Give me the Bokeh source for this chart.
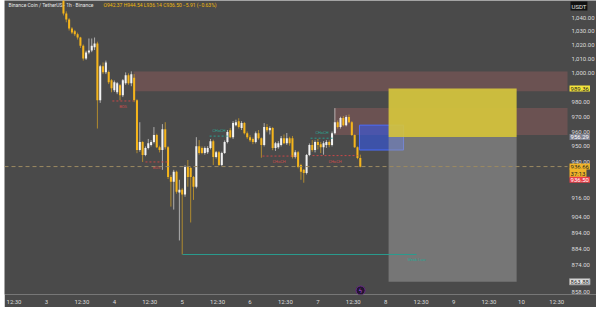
import pandas as pd
from bokeh.plotting import figure
from bokeh.models import (Range1d, FixedTicker, NumeralTickFormatter, Label, ColumnDataSource,
                          LogAxis)
from bokeh.core.properties import value
from bokeh.embed import file_html
from bokeh.resources import INLINE

# ---------------- data (BNB/USDT, 1h candles) ----------------
BASE = pd.Timestamp("2025-11-03 00:00")
EPOCH = pd.Timestamp("1970-01-01")


def ms(h):
    return float((BASE + pd.Timedelta(hours=h) - EPOCH) / pd.Timedelta(milliseconds=1))


hours = list(range(6, 112))
opens = [1058.0, 1042.9, 1038.5, 1032.0, 1030.0, 1027.8, 1025.5, 1019.5, 1010.5, 1014.8,
         1016.2, 1018.5, 1021.2, 981.3, 1005.0, 1000.7, 1001.0, 995.1, 988.2, 986.8,
         991.7, 984.8, 993.0, 998.6, 993.0, 997.0, 981.3, 947.6, 952.9, 944.3,
         948.9, 950.9, 952.9, 957.6, 949.5, 947.6, 961.6, 949.5, 929.9, 926.7,
         933.2, 919.7, 921.6, 918.4, 936.4, 935.7, 929.9, 923.5, 950.2, 948.9,
         945.6, 946.2, 948.9, 953.5, 943.0, 946.2, 937.7, 945.6, 952.9, 960.9,
         956.2, 964.3, 967.0, 962.3, 965.7, 958.9, 956.2, 954.9, 952.9, 958.9,
         955.5, 950.9, 963.0, 960.9, 962.3, 948.9, 949.5, 950.9, 955.5, 952.2,
         955.5, 955.5, 943.0, 946.2, 937.7, 934.5, 932.5, 944.3, 950.9, 947.6,
         952.9, 951.5, 949.5, 950.9, 952.9, 950.9, 958.9, 966.3, 963.0, 969.1,
         964.3, 969.8, 966.3, 957.6, 949.5, 942.37]
highs = [1060.0, 1044.5, 1039.5, 1033.0, 1031.0, 1029.0, 1026.0, 1020.5, 1016.0, 1024.8,
         1024.8, 1025.5, 1022.5, 1006.0, 1007.7, 1009.0, 1002.0, 996.0, 995.0, 994.0,
         992.5, 996.0, 1000.7, 1000.0, 1001.4, 999.5, 982.0, 966.3, 953.5, 950.0,
         955.0, 954.2, 963.0, 958.5, 950.5, 965.0, 966.3, 950.2, 931.0, 934.5,
         934.0, 928.0, 922.5, 937.5, 941.0, 936.5, 930.5, 956.2, 954.2, 950.0,
         950.0, 950.2, 955.0, 954.5, 947.0, 947.0, 946.5, 954.0, 961.0, 962.3,
         967.0, 968.0, 969.0, 967.0, 966.5, 960.0, 957.5, 956.0, 960.0, 961.0,
         956.0, 965.7, 965.0, 963.5, 963.0, 953.0, 953.5, 957.0, 958.0, 959.0,
         956.5, 957.0, 947.5, 947.0, 938.5, 935.0, 945.0, 952.0, 954.2, 954.0,
         955.0, 953.0, 953.5, 954.2, 954.0, 960.0, 975.9, 967.5, 970.0, 970.5,
         971.0, 971.5, 967.0, 958.0, 950.0, 944.54]
lows = [1041.5, 1036.5, 1030.5, 1028.0, 1026.5, 1024.0, 1018.0, 1009.0, 1009.5, 1013.5,
        1015.0, 1016.5, 962.0, 979.5, 999.5, 999.5, 992.5, 986.8, 987.0, 985.5,
        981.3, 983.5, 992.0, 992.0, 991.0, 980.0, 945.5, 946.5, 939.7, 943.5,
        948.0, 950.0, 952.0, 948.9, 946.0, 934.5, 948.0, 928.5, 910.7, 908.8,
        919.0, 889.3, 880.6, 917.0, 923.5, 900.6, 915.0, 922.5, 944.5, 944.8,
        944.5, 945.0, 948.0, 937.7, 942.0, 937.0, 937.0, 945.0, 952.0, 955.5,
        955.0, 963.5, 962.0, 961.0, 958.0, 955.0, 953.0, 951.5, 952.0, 954.5,
        942.5, 950.0, 959.5, 958.0, 947.5, 947.0, 948.5, 950.0, 951.5, 951.0,
        950.5, 942.0, 942.0, 935.5, 928.0, 926.1, 931.5, 943.5, 946.5, 946.0,
        948.0, 945.6, 944.5, 949.0, 949.5, 950.0, 958.0, 962.0, 962.0, 963.5,
        963.5, 965.5, 957.0, 949.0, 941.5, 936.14]
closes = [1042.9, 1038.5, 1032.0, 1029.1, 1027.8, 1025.5, 1019.5, 1010.5, 1014.8, 1016.2,
          1019.5, 1021.2, 981.3, 1005.0, 1000.7, 1007.7, 993.7, 989.6, 993.7, 993.0,
          984.8, 995.1, 998.6, 993.0, 999.3, 981.3, 947.6, 952.9, 944.3, 948.9,
          952.2, 952.9, 957.6, 949.5, 947.6, 961.6, 949.5, 929.9, 926.7, 933.2,
          920.3, 921.6, 918.4, 936.4, 929.9, 929.9, 923.5, 950.2, 945.6, 945.6,
          948.9, 948.9, 953.5, 943.0, 946.2, 937.7, 945.6, 952.9, 959.6, 956.2,
          965.7, 966.3, 963.0, 965.7, 958.9, 956.2, 954.2, 952.9, 958.9, 955.5,
          950.9, 963.0, 960.9, 962.3, 948.9, 952.2, 952.2, 955.5, 952.2, 955.5,
          952.2, 943.0, 946.2, 936.4, 933.2, 932.5, 944.3, 950.9, 947.6, 952.9,
          950.9, 949.5, 952.2, 952.9, 950.9, 958.9, 966.3, 963.0, 969.1, 964.3,
          969.8, 966.3, 957.6, 949.5, 942.3, 936.50]

y_ticks = [858, 874, 884, 894, 904, 916, 940, 950, 960, 970, 980,
           1000, 1010, 1020, 1030, 1040]
x_tick_hours = [-11.5, 0, 12.5, 24, 36.5, 48, 60.5, 72, 84.5, 96, 108.5,
                120, 132.5, 144, 156.5, 168, 180.5]
x_tick_labels = ["12:30", "3", "12:30", "4", "12:30", "5", "12:30", "6", "12:30",
                 "7", "12:30", "8", "12:30", "9", "12:30", "10", "12:30"]

# supply zones: start hour, top, bottom (extend to the price scale)
zone_start = [30.8, 101.9]
zone_top = [1001.4, 975.9]
zone_bottom = [987.5, 957.6]
# blue zone
blue_start, blue_end, blue_top, blue_bottom = 110.7, 126.3, 964.3, 947.6
# short position tool
pos_start, pos_end = 121.0, 166.3
pos_stop, pos_entry, pos_target = 989.36, 956.29, 863.88
# structure breaks
red_start = [23.3, 35.0, 76.4, 94.1]
red_end = [30.8, 42.8, 88.1, 110.0]
red_level = [980.8, 939.7, 943.6, 943.9]
red_text = ["BOS", "BOS", "CHoCH", "CHoCH"]
teal_start = [57.7, 93.4]
teal_end = [64.4, 101.5]
teal_level = [956.9, 955.5]
teal_text = ["CHoCH", "CHoCH"]
low_start, low_end, low_level = 48.1, 130.9, 880.6
last_price, mark_price, countdown = 936.50, 936.66, "37:13"

title_main = "Binance Coin / TetherUS · 1h · Binance"
title_ohlc = "O942.37 H944.54 L936.14 C936.50 −5.91 (−0.63%)"

# ---------------- styling ----------------
BG = "#4a4a4a"
UP = "#f2f2f2"
DOWN = "#f5b51c"
FONT = "Roboto"

x_start, x_end = ms(-14.86), ms(194.55)   # frame spans the price scale too
x_scale_edge = ms(184.3)                  # where the price scale starts
y_top, y_bot = 1052.49, 856.2

p = figure(width=592, height=307, x_axis_type="datetime", y_axis_type="log",
           x_range=Range1d(x_start, x_end), y_range=Range1d(y_bot, y_top),
           y_axis_location=None, output_backend="svg", toolbar_location=None,
           min_border_left=0, min_border_right=0, min_border_top=0, min_border_bottom=13,
           background_fill_color=BG, border_fill_color=BG, outline_line_color=None,
           margin=(0, 4, 8, 4))
p.grid.visible = False

yaxis = LogAxis(fixed_location=x_scale_edge, ticker=FixedTicker(ticks=y_ticks),
                formatter=NumeralTickFormatter(format="0,0.00"))
p.add_layout(yaxis, "right")

p.xaxis.ticker = FixedTicker(ticks=[ms(h) for h in x_tick_hours])
p.xaxis.major_label_overrides = {int(ms(h)): lab for h, lab in zip(x_tick_hours, x_tick_labels)}
for ax in (p.xaxis[0], yaxis):
    ax.axis_line_color = None
    ax.major_tick_line_color = None
    ax.minor_tick_line_color = None
    ax.major_tick_out = 0
    ax.major_tick_in = 0
    ax.minor_tick_out = 0
    ax.major_label_text_font_size = "6px"
    ax.major_label_text_color = "#dcdcdc"
    ax.major_label_text_font = FONT
yaxis.major_label_standoff = 4
p.xaxis.major_label_standoff = 3

# zones
p.quad(left=[ms(h) for h in zone_start], right=[x_scale_edge] * len(zone_start),
       top=zone_top, bottom=zone_bottom, fill_color="#b86868", fill_alpha=0.3, line_color=None)

# candles
src = ColumnDataSource(dict(
    x=[ms(h) for h in hours], o=opens, h=highs, l=lows, c=closes,
    top=[max(a, b) for a, b in zip(opens, closes)],
    bot=[min(a, b) for a, b in zip(opens, closes)],
    col=[UP if c >= o else DOWN for o, c in zip(opens, closes)],
))
p.segment(x0="x", y0="h", x1="x", y1="l", source=src, line_color="col", line_alpha=0.6, line_width=1)
p.vbar(x="x", width=0.72 * 3600000, top="top", bottom="bot", source=src,
       fill_color="col", line_color=None)

# blue zone then position tool
p.quad(left=[ms(blue_start)], right=[ms(blue_end)], top=[blue_top], bottom=[blue_bottom],
       fill_color="#3558e8", fill_alpha=0.6, line_color="#4a6cff", line_width=1)
p.quad(left=[ms(pos_start)], right=[ms(pos_end)], top=[pos_stop], bottom=[pos_entry],
       fill_color="#d6c63d", fill_alpha=0.92, line_color=None)
p.quad(left=[ms(pos_start)], right=[ms(pos_end)], top=[pos_entry], bottom=[pos_target],
       fill_color="#a2a2a2", fill_alpha=0.5, line_color=None)

# structure lines
p.segment(x0=[ms(h) for h in red_start], y0=red_level, x1=[ms(h) for h in red_end], y1=red_level,
          line_color="#c84848", line_dash="2 2", line_width=1)
p.text(x=[ms((a + b) / 2) for a, b in zip(red_start, red_end)], y=red_level, text=red_text,
       text_font=value(FONT), text_font_size="4px", text_color="#d04a4a",
       text_align="center", text_baseline="top", y_offset=3)
p.segment(x0=[ms(h) for h in teal_start], y0=teal_level, x1=[ms(h) for h in teal_end], y1=teal_level,
          line_color="#2a9d8f", line_dash="2 2", line_width=1)
p.text(x=[ms((a + b) / 2) for a, b in zip(teal_start, teal_end)], y=teal_level, text=teal_text,
       text_font=value(FONT), text_font_size="4px", text_color="#2aa595",
       text_align="center", text_baseline="bottom", y_offset=-3)
p.segment(x0=[ms(low_start)], y0=[low_level], x1=[ms(low_end)], y1=[low_level],
          line_color="#2a9d8f", line_width=1)
p.text(x=[ms(low_end)], y=[low_level], text=["Weak Low"], text_font=value(FONT),
       text_font_size="4px", text_color="#2aa595", text_align="center",
       text_baseline="top", y_offset=3)

# current price line
p.segment(x0=[x_start], y0=[mark_price], x1=[x_scale_edge], y1=[mark_price],
          line_color="#9c8a62", line_dash="4 3", line_width=1)

# icon near bottom
p.scatter(x=[ms(111.1)], y=[858.6], size=9, marker="circle", fill_color="#241630",
          line_color="#6a2a8a", line_width=1)
p.text(x=[ms(111.1)], y=[858.6], text=["ϟ"], text_font=value("DejaVu Sans"),
       text_font_size="6px", text_color="#b050e0", text_align="center", text_baseline="middle")

# title at the top edge
p.text(x=[ms(-13.44)], y=[y_top], text=[title_main], text_font=value(FONT),
       text_font_size="5px", text_color="#e6e6e6", text_baseline="top", y_offset=1)
p.text(x=[ms(20.2)], y=[y_top], text=[title_ohlc], text_font=value(FONT),
       text_font_size="5px", text_color="#f0b90b", text_baseline="top", y_offset=1)


def price_tag(y, text, bg, fg, y_offset=0, border=None):
    p.add_layout(Label(x=x_scale_edge, y=y, text=text, x_offset=2, y_offset=y_offset,
                       text_font=FONT, text_font_size="6px", text_color=fg,
                       text_align="left", text_baseline="middle",
                       background_fill_color=bg, border_line_color=border, padding=1))


price_tag(pos_stop, "989.36", "#f5e63c", "#222222")
price_tag(pos_entry, "956.29", "#7d808e", "#ffffff")
price_tag(mark_price, "936.66", "#f0b429", "#222222")
price_tag(mark_price, countdown, "#f0b429", "#222222", y_offset=-6.5)
price_tag(last_price, "936.50", "#e8404a", "#ffffff", y_offset=-13)
price_tag(pos_target, "863.88", "#e8e8e8", "#222222", border="#999999")
p.add_layout(Label(x=x_scale_edge, y=y_top, text="USDT", x_offset=3, y_offset=-1,
                   text_font=FONT, text_font_size="6px", text_color="#e0e0e0",
                   text_align="left", text_baseline="top",
                   background_fill_color="#111111", padding=1))

open("out.html", "w").write(file_html(p, INLINE))
